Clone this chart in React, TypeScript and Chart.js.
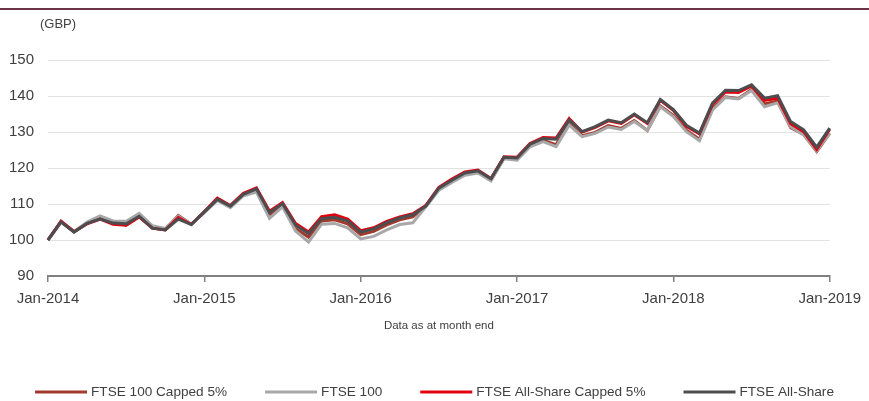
import React, { useEffect, useRef } from "react";
import { Chart, registerables } from "chart.js";

Chart.register(...registerables);

const monthNames = ["Jan", "Feb", "Mar", "Apr", "May", "Jun", "Jul", "Aug", "Sep", "Oct", "Nov", "Dec"];
const categories: string[] = [];
for (let y = 2014; y <= 2019; y++) {
  for (let m = 0; m < 12; m++) {
    if (y === 2019 && m > 0) break;
    categories.push(`${monthNames[m]}-${y}`);
  }
}

const yTicks = [90, 100, 110, 120, 130, 140, 150];

const ftse100Capped = [
  100, 105.1, 102.3, 104.7, 106, 104.6, 104.2, 106.5, 103.4, 102.9, 106.8, 104.4,
  107.7, 111.2, 109.3, 112.5, 114, 107, 109.8, 103.2, 100.8, 105.3, 105.6, 104.5,
  101.5, 102.4, 104.2, 105.6, 106.4, 109.4, 114.2, 116.4, 118.4, 119, 116.8, 122.8,
  122.5, 126.3, 127.7, 126.5, 132.3, 129, 129.9, 131.8, 131, 133.2, 130.4, 137.2,
  134.6, 130.5, 128, 136.5, 139.8, 139.3, 141.8, 137.8, 138.6, 131.2, 129.3, 124.6, 129.6,
];

const ftse100 = [
  100, 105.1, 102.4, 105, 106.7, 105.3, 105.2, 107.4, 104, 103.2, 106.6, 104.4,
  107.6, 111, 109, 112.3, 113.3, 106, 109.2, 102.5, 99.4, 104.4, 104.6, 103.4,
  100.3, 101, 102.8, 104.3, 104.8, 109.2, 113.8, 116, 118, 118.6, 116.4, 122.6,
  122.2, 125.9, 127.3, 125.9, 131.9, 128.7, 129.6, 131.4, 130.7, 132.9, 130.4, 137,
  134.3, 130.1, 127.6, 136.1, 139.6, 139.2, 141.5, 137, 138.1, 131.5, 129.2, 124.8, 129.7,
];

const allShareCapped = [
  100, 105.2, 102.3, 104.5, 105.8, 104.4, 104.1, 106.4, 103.3, 102.8, 106.2, 104.3,
  107.9, 111.6, 109.6, 113, 114.5, 108, 110.4, 104.6, 102.2, 106.5, 107, 105.8,
  102.6, 103.4, 105.2, 106.4, 107.3, 109.6, 114.6, 116.9, 118.9, 119.4, 117.1, 123.1,
  123, 126.8, 128.5, 128.3, 133.7, 130, 131.3, 133.1, 132.4, 134.8, 132.4, 138.8,
  136, 131.6, 129.5, 137.6, 141.1, 141, 142.8, 138.8, 139.4, 132.3, 130.1, 125.2, 130.8,
];

const allShare = [
  100, 105, 102.2, 104.6, 105.8, 104.7, 104.5, 106.6, 103.3, 102.8, 105.8, 104.3,
  107.8, 111.3, 109.4, 112.7, 114.2, 107.6, 110.1, 104.1, 101.8, 105.9, 106.3, 105.3,
  102.2, 103.1, 104.8, 106.1, 107, 109.4, 114.4, 116.6, 118.6, 119.2, 117, 123,
  122.8, 126.6, 128.2, 128, 133.3, 130.1, 131.5, 133.3, 132.6, 135, 132.6, 139,
  136.2, 131.9, 129.7, 138, 141.6, 141.5, 143.1, 139.4, 140.1, 132.9, 130.6, 125.8, 131.1,
];

const seriesNames = ["FTSE 100 Capped 5%", "FTSE 100", "FTSE All-Share Capped 5%", "FTSE All-Share"];
const seriesColors = ["#a33a2e", "#a8a8a8", "#e2000f", "#4d4d4f"];
const seriesOrder = [3, 2, 1, 0];

const FONT = "'Liberation Sans', Arial, Helvetica, sans-serif";
const TEXT = "#404040";

const decorPlugin = {
  id: "decor",
  afterDraw(chart: any) {
    const ctx = chart.ctx as CanvasRenderingContext2D;
    const area = chart.chartArea;
    const W = chart.width;
    ctx.save();
    // top rule
    ctx.strokeStyle = "#6e3346";
    ctx.lineWidth = 2;
    ctx.beginPath();
    ctx.moveTo(0, 9);
    ctx.lineTo(W, 9);
    ctx.stroke();
    // unit label
    ctx.fillStyle = TEXT;
    ctx.font = `13px ${FONT}`;
    ctx.textBaseline = "middle";
    ctx.textAlign = "left";
    ctx.fillText("(GBP)", 40, 24);
    // x title
    ctx.font = `11.5px ${FONT}`;
    ctx.textAlign = "center";
    ctx.fillText("Data as at month end", (area.left + area.right) / 2, 326);
    // legend
    ctx.font = `13.6px ${FONT}`;
    ctx.textAlign = "left";
    const lineLen = 52;
    const textGap = 4;
    const itemGap = 38;
    const ds = chart.data.datasets;
    const widths = ds.map((d: any) => lineLen + textGap + ctx.measureText(d.label).width);
    const total = widths.reduce((a: number, b: number) => a + b, 0) + itemGap * (ds.length - 1);
    let x = (W - total) / 2;
    const ly = 392;
    ds.forEach((d: any, i: number) => {
      ctx.strokeStyle = d.borderColor;
      ctx.lineWidth = 3;
      ctx.beginPath();
      ctx.moveTo(x, ly);
      ctx.lineTo(x + lineLen, ly);
      ctx.stroke();
      ctx.fillStyle = TEXT;
      ctx.fillText(d.label, x + lineLen + textGap, ly + 0.5);
      x += widths[i] + itemGap;
    });
    ctx.restore();
  },
};

export default function App() {
  const ref = useRef<HTMLCanvasElement | null>(null);
  useEffect(() => {
    document.body.style.margin = "0";
    if (!ref.current) return;
    const data = [ftse100Capped, ftse100, allShareCapped, allShare];
    const chart = new Chart(ref.current, {
      type: "line",
      data: {
        labels: categories,
        datasets: data.map((d, i) => ({
          label: seriesNames[i],
          data: d,
          borderColor: seriesColors[i],
          backgroundColor: seriesColors[i],
          borderWidth: 3,
          pointRadius: 0,
          tension: 0,
          order: seriesOrder[i],
        })),
      },
      options: {
        responsive: false,
        animation: false,
        layout: { padding: { top: 60, right: 37, bottom: 85, left: 0 } },
        plugins: { legend: { display: false }, tooltip: { enabled: false } },
        scales: {
          x: {
            afterFit: (s: any) => {
              s.height = 40;
            },
            grid: {
              display: true,
              drawOnChartArea: false,
              drawTicks: true,
              tickLength: 6,
              lineWidth: 1.5,
              color: (c: any) => (c.index % 12 === 0 ? "#808080" : "rgba(0,0,0,0)"),
            },
            border: { display: true, color: "#808080", width: 2 },
            ticks: {
              autoSkip: false,
              maxRotation: 0,
              minRotation: 0,
              padding: 8,
              color: TEXT,
              font: { family: FONT, size: 15 },
              callback: (_v: any, i: number) => (i % 12 === 0 ? categories[i] : ""),
            },
          },
          y: {
            min: yTicks[0],
            max: yTicks[yTicks.length - 1],
            afterFit: (s: any) => {
              s.width = 48;
            },
            afterBuildTicks: (s: any) => {
              s.ticks = yTicks.map((v) => ({ value: v }));
            },
            grid: { color: "#e2e2e2", lineWidth: 1, drawTicks: false },
            border: { display: false },
            ticks: {
              padding: 14,
              color: TEXT,
              font: { family: FONT, size: 15 },
            },
          },
        },
      },
      plugins: [decorPlugin],
    });
    return () => chart.destroy();
  }, []);
  return <canvas ref={ref} width={869} height={401} style={{ display: "block" }} />;
}
